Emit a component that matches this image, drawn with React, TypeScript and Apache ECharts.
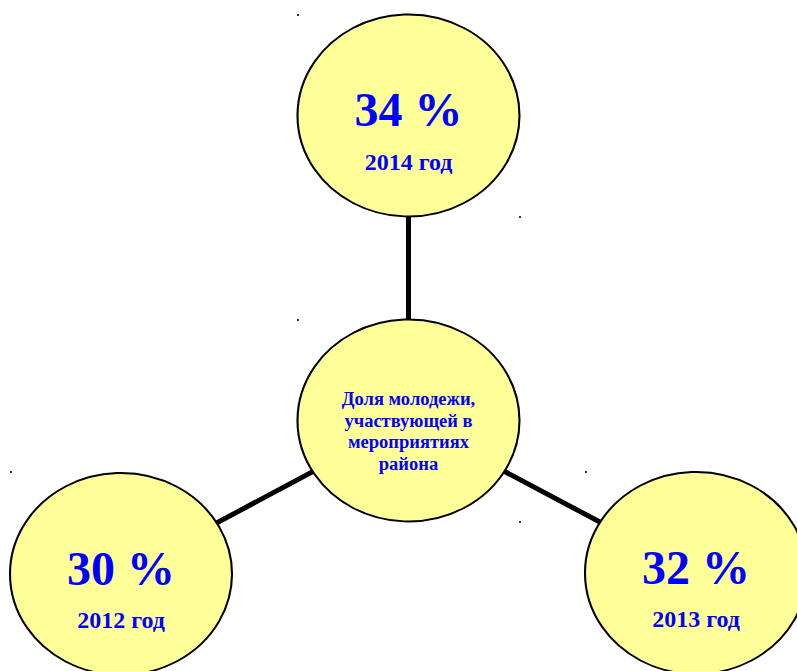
import React, { useEffect, useRef } from "react";
import * as echarts from "echarts";

// ---- data ----
const years = ["2014 год", "2013 год", "2012 год"];
const shares = [34, 32, 30];
const centerTitle = ["Доля молодежи,", "участвующей в", "мероприятиях", "района"];

// ---- layout (pixels) ----
const W = 797;
const H = 671;
const hubPos = [408.5, 420.5];
const nodePos = [
  [408.5, 115.5],
  [696, 573],
  [121, 574],
];
const cornerMarks = [
  [298, 15],
  [520, 217],
  [298, 320],
  [11, 472],
  [586, 472],
  [520, 522],
];

const FONT = "'Liberation Serif', 'Times New Roman', serif";
const BLUE = "#0000FF";

export default function App() {
  const ref = useRef<HTMLDivElement>(null);
  useEffect(() => {
    if (!ref.current) return;
    const chart = echarts.init(ref.current, null, { renderer: "svg" });
    const nodes: any[] = [
      {
        name: "hub",
        value: hubPos,
        label: {
          formatter: centerTitle.map((t) => `{c|${t}}`).join("\n"),
          offset: [0, 11],
          rich: {
            c: {
              fontFamily: FONT,
              fontWeight: "bold",
              fontSize: 18.5,
              lineHeight: 21.5,
              color: BLUE,
            },
          },
        },
      },
    ];
    shares.forEach((s, i) => {
      nodes.push({
        name: years[i],
        value: nodePos[i],
        label: {
          formatter: `{a|${s} %}\n{b|${years[i]}}`,
          offset: [0, 18],
          rich: {
            a: {
              fontFamily: FONT,
              fontWeight: "bold",
              fontSize: 48,
              lineHeight: 56,
              color: BLUE,
            },
            b: {
              fontFamily: FONT,
              fontWeight: "bold",
              fontSize: 24,
              lineHeight: 48,
              color: BLUE,
            },
          },
        },
      });
    });
    const links = years.map((y) => ({ source: "hub", target: y }));

    chart.setOption({
      animation: false,
      grid: { left: 0, right: 0, top: 0, bottom: 0 },
      xAxis: { type: "value", min: 0, max: W, show: false },
      yAxis: { type: "value", min: 0, max: H, inverse: true, show: false },
      series: [
        {
          type: "graph",
          coordinateSystem: "cartesian2d",
          symbol: "circle",
          symbolSize: [222, 202],
          itemStyle: { color: "#FFFF99", borderColor: "#000", borderWidth: 2 },
          lineStyle: { color: "#000", width: 5, opacity: 1, curveness: 0 },
          label: { show: true, position: "inside" },
          emphasis: { disabled: true },
          data: nodes,
          links,
          z: 2,
        },
        {
          type: "scatter",
          symbol: "rect",
          symbolSize: 2,
          itemStyle: { color: "#000" },
          data: cornerMarks,
          silent: true,
          z: 3,
        },
      ],
    });
    return () => chart.dispose();
  }, []);
  return (
    <div
      ref={ref}
      style={{ position: "absolute", left: 0, top: 0, width: W, height: H, background: "#fff" }}
    />
  );
}
